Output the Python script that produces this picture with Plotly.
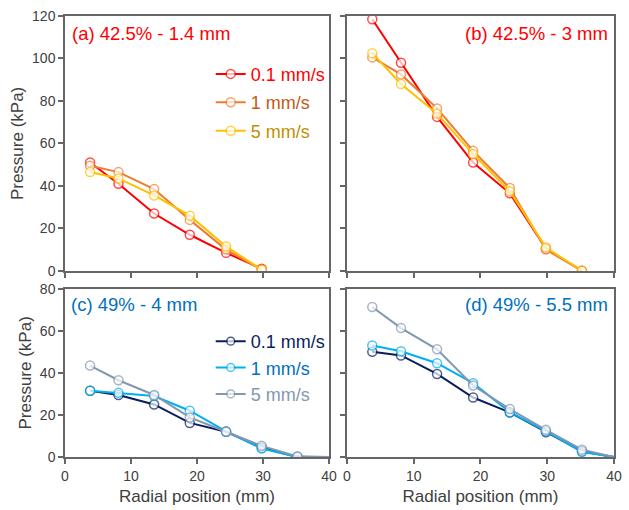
import plotly.graph_objects as go

# Radial sensor positions (mm)
radial_pos = [3.8, 8.1, 13.5, 18.9, 24.4, 29.8, 35.2, 40.0]

# (a) 42.5% - 1.4 mm
a_v01 = [51.0, 41.0, 27.0, 17.0, 8.5, 1.0]
a_v1 = [49.5, 46.5, 38.5, 24.0, 10.0, 0.5]
a_v5 = [46.5, 43.5, 35.5, 26.0, 11.5, 0.5]

# (b) 42.5% - 3 mm
b_v01 = [118.5, 98.0, 72.5, 51.0, 36.5, 10.5, 0.0]
b_v1 = [100.5, 92.5, 76.5, 56.5, 39.0, 10.0, 0.0]
b_v5 = [102.5, 88.0, 74.0, 55.0, 37.5, 11.0, 0.0]

# (c) 49% - 4 mm
c_v01 = [31.5, 29.5, 25.0, 16.2, 12.0, 4.5, 0.0, 0.0]
c_v1 = [31.5, 30.5, 29.0, 22.0, 12.2, 4.0, 0.0, 0.0]
c_v5 = [43.5, 36.5, 29.5, 18.8, 12.0, 5.3, 0.3, 0.0]

# (d) 49% - 5.5 mm
d_v01 = [50.0, 48.3, 39.5, 28.3, 21.2, 11.8, 2.7, 0.0]
d_v1 = [53.0, 50.3, 44.6, 35.1, 21.3, 12.3, 2.4, 0.0]
d_v5 = [71.3, 61.3, 51.2, 34.0, 22.8, 12.9, 3.5, 0.0]

speed_labels = ["0.1 mm/s", "1 mm/s", "5 mm/s"]
panel_titles = ["(a) 42.5% - 1.4 mm", "(b) 42.5% - 3 mm", "(c) 49% - 4 mm", "(d) 49% - 5.5 mm"]

FONT = "Liberation Sans, Arial, sans-serif"
top_line = ["#FF0000", "#ED7D31", "#FFC000"]
top_text = ["#FF0000", "#C55A11", "#BF9000"]
bot_line = ["#0A1E5E", "#00B0F0", "#8497B0"]
bot_text = ["#0A1E5E", "#0070C0", "#8497B0"]
AXIS = "#666666"

fig = go.Figure()


def add_series(values, xa, ya, colors, texts, legend, show):
    for i, vals in enumerate(values):
        xs = radial_pos[:len(vals)]
        # the closing point at the rim (40 mm) is drawn as a line end only
        sizes = [0 if x >= 40 else 9 for x in xs]
        fig.add_trace(go.Scatter(
            x=xs, y=vals, xaxis=xa, yaxis=ya,
            mode="lines+markers",
            line=dict(color=colors[i], width=2),
            marker=dict(symbol="circle", size=sizes, color="white",
                        line=dict(color=colors[i], width=1.5)),
            name=f"<span style='color:{texts[i]}'>{speed_labels[i]}</span>",
            legend=legend, legendgroup=f"{legend}{i}",
            showlegend=show,
        ))


add_series([a_v01, a_v1, a_v5], "x", "y", top_line, top_text, "legend", True)
add_series([b_v01, b_v1, b_v5], "x2", "y2", top_line, top_text, "legend", False)
add_series([c_v01, c_v1, c_v5], "x3", "y3", bot_line, bot_text, "legend2", True)
add_series([d_v01, d_v1, d_v5], "x4", "y4", bot_line, bot_text, "legend2", False)

left_dom = [0.0, 0.481]
right_dom = [0.5135, 1.0]
top_dom = [0.4221, 1.0]
bot_dom = [0.0, 0.3815]


def xaxis(dom, anchor, labels):
    return dict(domain=dom, anchor=anchor, range=[0, 40], tickvals=[0, 10, 20, 30, 40],
                showticklabels=labels, ticks="outside", ticklen=5, tickwidth=1.5,
                tickcolor=AXIS, showline=True, linecolor=AXIS, linewidth=1.5,
                mirror=True, showgrid=False, zeroline=False,
                tickfont=dict(family=FONT, size=14, color="#404040"),
                title=dict(text="Radial position (mm)" if labels else "",
                           font=dict(family=FONT, size=17, color="#404040"), standoff=8))


def yaxis(dom, anchor, ymax, labels):
    return dict(domain=dom, anchor=anchor, range=[0, ymax],
                tickvals=list(range(0, ymax + 1, 20)),
                showticklabels=labels, ticks="outside", ticklen=5, tickwidth=1.5,
                tickcolor=AXIS, showline=True, linecolor=AXIS, linewidth=1.5,
                mirror=True, showgrid=False, zeroline=False,
                tickfont=dict(family=FONT, size=14, color="#404040"),
                title=dict(text="Pressure (kPa)" if labels else "",
                           font=dict(family=FONT, size=17, color="#404040"), standoff=4))


fig.update_layout(
    width=629, height=510,
    margin=dict(l=65, r=7, t=16, b=51),
    paper_bgcolor="white", plot_bgcolor="white",
    font=dict(family=FONT),
    xaxis=xaxis(left_dom, "y", False),
    yaxis=yaxis(top_dom, "x", 120, True),
    xaxis2=xaxis(right_dom, "y2", False),
    yaxis2=yaxis(top_dom, "x2", 120, False),
    xaxis3=xaxis(left_dom, "y3", True),
    yaxis3=yaxis(bot_dom, "x3", 80, True),
    xaxis4=xaxis(right_dom, "y4", True),
    yaxis4=yaxis(bot_dom, "x4", 80, False),
    legend=dict(x=0.484, xanchor="right", y=0.91, yanchor="top",
                bgcolor="rgba(0,0,0,0)", font=dict(family=FONT, size=18),
                traceorder="grouped", tracegroupgap=2, itemwidth=30),
    legend2=dict(x=0.484, xanchor="right", y=0.304, yanchor="top",
                 bgcolor="rgba(0,0,0,0)", font=dict(family=FONT, size=18),
                 traceorder="grouped", tracegroupgap=0, itemwidth=30),
)

# Panel labels
ann = [
    dict(text=panel_titles[0], x=0.010, xanchor="left", y=0.960, color="#FF0000"),
    dict(text=panel_titles[1], x=0.993, xanchor="right", y=0.960, color="#FF0000"),
    dict(text=panel_titles[2], x=0.008, xanchor="left", y=0.345, color="#0070C0"),
    dict(text=panel_titles[3], x=0.993, xanchor="right", y=0.345, color="#0070C0"),
]
for a in ann:
    fig.add_annotation(text=a["text"], xref="paper", yref="paper", x=a["x"], y=a["y"],
                       xanchor=a["xanchor"], yanchor="middle", showarrow=False,
                       font=dict(family=FONT, size=18.5, color=a["color"]))

fig.write_html("out.html")
